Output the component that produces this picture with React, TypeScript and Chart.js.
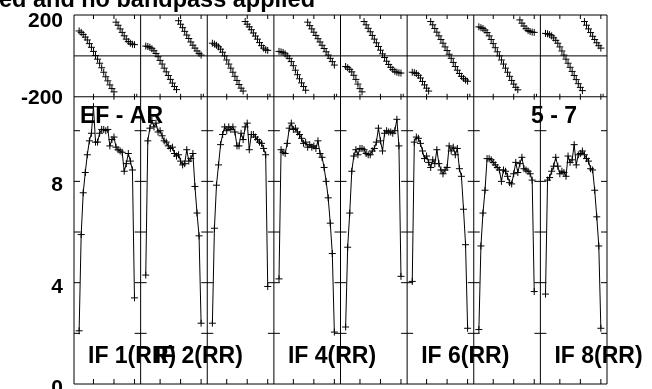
import React, { useEffect, useRef } from 'react';
import { Chart, registerables } from 'chart.js';

Chart.register(...registerables);

// ---- text ----
const TITLE = 'ed and no bandpass applied';
const BASELINE_LABEL = 'EF - AR';
const TIME_LABEL = '5 - 7';
const IF_NAMES = ['IF 1(RR)', 'IF 2(RR)', 'IF 3(RR)', 'IF 4(RR)', 'IF 5(RR)', 'IF 6(RR)', 'IF 7(RR)', 'IF 8(RR)'];
const LABELED_IFS = [0, 1, 3, 5, 7];

// ---- axes ----
const CHANNELS = [3, 4, 5, 6, 7, 8, 9, 10, 11, 12, 13, 14, 15, 16, 17, 18, 19, 20, 21, 22, 23, 24, 25, 26, 27, 28, 29, 30];
const CHANNEL_SPAN = 32.5; // channel units per IF panel
const X_TICK_CHANNELS = [10, 20, 30];
const SPLIT_EXTRA_TICK = 31.1;
const PHASE_MIN = -200;
const PHASE_MAX = 200;
const PHASE_LABELS = [200, -200];
const AMP_TOP = 11.34;
const AMP_TICKS = [2, 4, 6, 8, 10];
const AMP_LABELS = [0, 4, 8];

// ---- amplitude per IF (channels 3..30) ----
const AMP_IF1 = [2.1, 5.9, 7.55, 8.35, 9.05, 9.6, 9.9, 10.95, 9.55, 9.55, 9.9, 10.05, 10.05, 10.0, 10.05, 9.4, 9.65, 9.75, 9.35, 9.25, 9.2, 9.15, 8.4, 8.7, 9.1, 8.8, 8.45, 3.4];
const AMP_IF2 = [4.3, 9.6, 10.1, 10.4, 10.15, 10.3, 9.95, 10.0, 9.8, 9.6, 9.55, 9.4, 9.3, 9.35, 9.1, 9.0, 9.05, 8.8, 8.65, 8.7, 9.25, 8.8, 8.9, 9.1, 7.8, 6.75, 5.85, 2.4];
const AMP_IF3 = [2.4, 6.15, 7.85, 8.65, 9.45, 9.85, 10.15, 10.0, 10.15, 10.05, 10.15, 9.95, 9.4, 9.4, 9.9, 9.65, 10.15, 10.3, 9.25, 9.85, 9.85, 9.75, 9.65, 9.55, 9.5, 9.3, 9.05, 3.85];
const AMP_IF4 = [4.15, 9.25, 9.15, 9.1, 9.5, 10.1, 10.3, 10.05, 10.1, 9.95, 9.85, 9.7, 9.5, 9.55, 9.35, 9.45, 9.35, 9.4, 9.3, 9.6, 9.1, 8.95, 8.55, 8.0, 7.35, 6.35, 5.15, 2.05];
const AMP_IF5 = [2.25, 5.4, 6.75, 8.4, 9.0, 9.25, 9.05, 9.3, 9.3, 9.25, 9.1, 9.05, 9.05, 9.2, 9.3, 9.55, 10.1, 9.6, 9.2, 9.9, 10.0, 9.95, 9.95, 9.9, 10.0, 10.45, 9.4, 4.25];
const AMP_IF6 = [4.05, 9.55, 9.75, 9.7, 9.5, 9.2, 8.9, 9.0, 8.75, 8.55, 8.85, 8.7, 9.25, 8.7, 8.45, 8.3, 8.45, 8.55, 9.4, 9.2, 9.35, 9.05, 9.3, 8.5, 8.2, 6.9, 5.5, 2.2];
const AMP_IF7 = [2.15, 5.45, 6.75, 7.65, 8.9, 8.9, 8.85, 8.75, 8.65, 8.55, 8.45, 8.0, 8.45, 8.4, 8.2, 7.95, 7.9, 8.3, 8.75, 8.35, 8.7, 8.95, 8.5, 8.45, 8.4, 8.3, 8.05, 3.65];
const AMP_IF8 = [3.55, 8.05, 8.15, 8.4, 8.6, 8.95, 8.6, 8.3, 8.4, 8.35, 8.2, 9.0, 8.75, 8.85, 9.45, 8.65, 9.05, 9.1, 9.2, 9.05, 8.9, 8.8, 8.5, 8.45, 7.65, 6.6, 5.45, 2.2];

// ---- phase per IF (degrees, channels 3..30) ----
const PH_IF1 = [122, 115, 105, 92, 78, 60, 42, 22, 2, -16, -36, -58, -80, -102, -122, -142, -160, -176, 165, 150, 132, 115, 98, 82, 70, 62, 57, 55];
const PH_IF2 = [48, 46, 42, 35, 25, 12, -4, -22, -40, -60, -78, -96, -115, -133, -150, -165, 172, 155, 138, 120, 102, 85, 68, 52, 38, 24, 12, 4];
const PH_IF3 = [62, 58, 52, 44, 33, 18, 0, -20, -40, -60, -80, -100, -120, -140, -158, -172, 168, 155, 142, 128, 112, 97, 82, 65, 50, 38, 30, 27];
const PH_IF4 = [22, 20, 17, 10, 0, -12, -28, -48, -70, -92, -112, -132, -150, -168, 165, 148, 132, 116, 100, 84, 68, 52, 36, 20, 4, -12, -28, -45];
const PH_IF5 = [-52, -58, -66, -78, -95, -115, -138, -160, -176, 168, 152, 135, 118, 100, 82, 64, 46, 28, 10, -8, -26, -42, -56, -67, -75, -80, -83, -84];
const PH_IF6 = [-80, -82, -86, -95, -108, -125, -142, -158, -172, 168, 152, 134, 116, 98, 80, 62, 44, 26, 8, -12, -32, -52, -70, -86, -100, -110, -118, -124];
const PH_IF7 = [142, 138, 134, 126, 114, 98, 80, 60, 40, 20, 0, -20, -40, -60, -80, -100, -120, -138, -154, -166, 176, 160, 146, 133, 124, 119, 116, 115];
const PH_IF8 = [110, 108, 104, 98, 88, 76, 62, 44, 24, 4, -16, -36, -56, -76, -96, -116, -136, -154, -170, 168, 150, 132, 114, 96, 80, 64, 50, 38];

const AMPS = [AMP_IF1, AMP_IF2, AMP_IF3, AMP_IF4, AMP_IF5, AMP_IF6, AMP_IF7, AMP_IF8];
const PHASES = [PH_IF1, PH_IF2, PH_IF3, PH_IF4, PH_IF5, PH_IF6, PH_IF7, PH_IF8];

// ---- layout (pixels) ----
const W = 652;
const H = 389;
const PLOT_LEFT = 74;
const PLOT_RIGHT = 607;
const PLOT_TOP = 15;
const PLOT_SPLIT = 97;
const PLOT_BOTTOM = 385;
const FONT_FAMILY = '"Liberation Sans", Arial, Helvetica, sans-serif';

const xOf = (ifIdx: number, ch: number) => ifIdx * CHANNEL_SPAN + (ch - 0.5);

const decoPlugin = {
  id: 'possmDeco',
  beforeDatasetsDraw(chart: any) {
    const { ctx, scales } = chart;
    const x = scales.x, yP = scales.yP, yA = scales.yA;
    const nIF = AMPS.length;
    const top = yP.getPixelForValue(PHASE_MAX);
    const split = yP.getPixelForValue(PHASE_MIN);
    const bottom = yA.getPixelForValue(0);
    const left = x.getPixelForValue(0);
    const right = x.getPixelForValue(nIF * CHANNEL_SPAN);
    const line = (x0: number, y0: number, x1: number, y1: number) => {
      ctx.beginPath();
      ctx.moveTo(x0, y0);
      ctx.lineTo(x1, y1);
      ctx.stroke();
    };
    ctx.save();
    ctx.strokeStyle = '#000';
    ctx.lineWidth = 1;
    line(left, top, right, top);
    line(left, split, right, split);
    line(left, bottom, right, bottom);
    const zero = yP.getPixelForValue(0);
    line(left, zero, right, zero);
    for (let i = 0; i <= nIF; i++) {
      const px = x.getPixelForValue(i * CHANNEL_SPAN);
      line(px, top, px, bottom);
      for (const v of AMP_TICKS) {
        const py = yA.getPixelForValue(v);
        const x0 = i === 0 ? px : px - 6;
        const x1 = i === nIF ? px : px + 6;
        line(x0, py, x1, py);
      }
    }
    for (let i = 0; i < nIF; i++) {
      for (const t of X_TICK_CHANNELS) {
        const px = x.getPixelForValue(xOf(i, t));
        line(px, top, px, top + 4);
        line(px, split - 3, px, split + 3);
        line(px, bottom - 5, px, bottom);
      }
      const pe = x.getPixelForValue(xOf(i, SPLIT_EXTRA_TICK));
      line(pe, split - 3, pe, split);
    }
    ctx.restore();
  },
  afterDraw(chart: any) {
    const { ctx, scales } = chart;
    const x = scales.x, yP = scales.yP, yA = scales.yA;
    const left = x.getPixelForValue(0);
    const right = x.getPixelForValue(AMPS.length * CHANNEL_SPAN);
    ctx.save();
    ctx.fillStyle = '#000';
    ctx.textBaseline = 'alphabetic';

    ctx.font = `bold 23.5px ${FONT_FAMILY}`;
    ctx.textAlign = 'left';
    ctx.fillText(TITLE, -1, 7);

    ctx.font = `bold 21px ${FONT_FAMILY}`;
    ctx.textAlign = 'right';
    for (const v of PHASE_LABELS) {
      const py = yP.getPixelForValue(v);
      ctx.fillText(String(v), left - 11, v > 0 ? py + 12 : py + 7);
    }
    for (const v of AMP_LABELS) {
      const py = yA.getPixelForValue(v);
      ctx.fillText(String(v), left - 11, py + 10);
    }

    ctx.font = `bold 23px ${FONT_FAMILY}`;
    ctx.textAlign = 'left';
    const split = yP.getPixelForValue(PHASE_MIN);
    ctx.fillText(BASELINE_LABEL, left + 6, split + 26.5);
    ctx.fillText(TIME_LABEL, right - 76, split + 26.5);

    const bottom = yA.getPixelForValue(0);
    for (const i of LABELED_IFS) {
      const px = x.getPixelForValue(i * CHANNEL_SPAN);
      ctx.fillText(IF_NAMES[i], px + 14, bottom - 21);
    }
    ctx.restore();
  },
};

export default function App() {
  const canvasRef = useRef<HTMLCanvasElement | null>(null);

  useEffect(() => {
    const canvas = canvasRef.current;
    if (!canvas) return;

    const ampDatasets = AMPS.map((vals, i) => ({
      label: `amp ${IF_NAMES[i]}`,
      data: vals.map((v, k) => ({ x: xOf(i, CHANNELS[k]), y: v })),
      yAxisID: 'yA',
      borderColor: '#000',
      borderWidth: 1,
      tension: 0,
      pointStyle: 'cross',
      pointRadius: 3.5,
      pointBorderWidth: 1,
      pointBorderColor: '#000',
      pointBackgroundColor: '#000',
      showLine: true,
      fill: false,
    }));
    const phaseDatasets = PHASES.map((vals, i) => ({
      label: `phase ${IF_NAMES[i]}`,
      data: vals.map((v, k) => ({ x: xOf(i, CHANNELS[k]), y: v })),
      yAxisID: 'yP',
      borderColor: '#000',
      borderWidth: 1,
      pointStyle: 'cross',
      pointRadius: 3.5,
      pointBorderWidth: 1,
      pointBorderColor: '#000',
      showLine: false,
      fill: false,
    }));

    const plotH = PLOT_BOTTOM - PLOT_TOP;
    const phaseMin = PHASE_MAX - (PHASE_MAX - PHASE_MIN) * plotH / (PLOT_SPLIT - PLOT_TOP);
    const ampMax = AMP_TOP * plotH / (PLOT_BOTTOM - PLOT_SPLIT);

    const chart = new Chart(canvas, {
      type: 'line',
      data: { datasets: [...ampDatasets, ...phaseDatasets] as any },
      options: {
        responsive: false,
        animation: false,
        events: [],
        layout: {
          padding: { left: PLOT_LEFT, right: W - PLOT_RIGHT, top: PLOT_TOP, bottom: H - PLOT_BOTTOM },
        },
        plugins: {
          legend: { display: false },
          tooltip: { enabled: false },
          title: { display: false },
        },
        scales: {
          x: { type: 'linear', display: false, min: 0, max: AMPS.length * CHANNEL_SPAN, bounds: 'data' },
          yP: { type: 'linear', display: false, min: phaseMin, max: PHASE_MAX, bounds: 'data' },
          yA: { type: 'linear', display: false, min: 0, max: ampMax, bounds: 'data' },
        },
      } as any,
      plugins: [decoPlugin],
    });

    return () => chart.destroy();
  }, []);

  return (
    <div style={{ position: 'fixed', left: 0, top: 0, width: W, height: H, background: '#fff' }}>
      <canvas ref={canvasRef} width={W} height={H} style={{ display: 'block', width: W, height: H }} />
    </div>
  );
}
